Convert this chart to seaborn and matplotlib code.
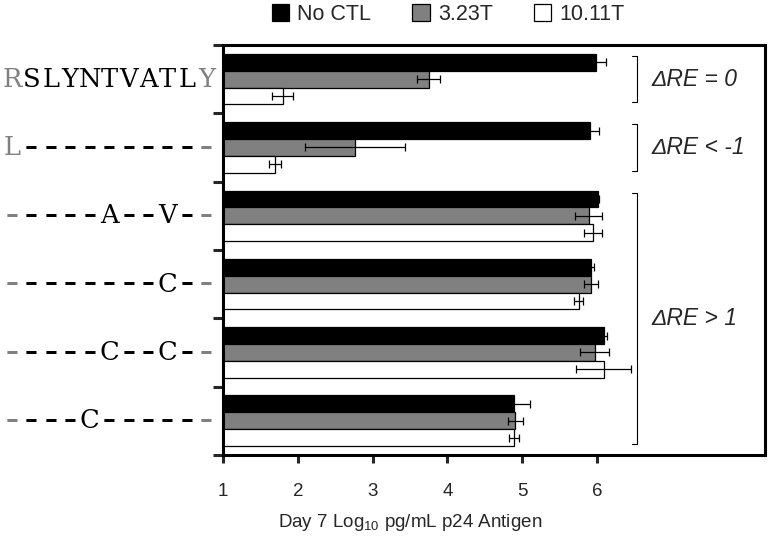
import numpy as np
import pandas as pd
import seaborn as sns
import matplotlib.pyplot as plt
from matplotlib.patches import Patch

peptides = ["RSLYNTVATLY", "L----------", "-----A--V--",
            "--------C--", "-----C--C--", "----C------"]
groups = ["No CTL", "3.23T", "10.11T"]
no_ctl = [5.99, 5.91, 6.01, 5.92, 6.09, 4.89]
t323 = [3.75, 2.77, 5.89, 5.92, 5.97, 4.91]
t1011 = [1.80, 1.70, 5.95, 5.76, 6.09, 4.89]
no_ctl_err = [0.13, 0.12, 0.02, 0.04, 0.05, 0.22]
t323_err = [0.15, 0.67, 0.18, 0.09, 0.19, 0.10]
t1011_err = [0.14, 0.08, 0.12, 0.06, 0.37, 0.07]
bracket_labels = ["ΔRE = 0", "ΔRE < -1", "ΔRE > 1"]
bracket_spans = [(0, 0), (1, 1), (2, 5)]

series = [no_ctl, t323, t1011]
errors = [no_ctl_err, t323_err, t1011_err]
colors = ["#000000", "#808080", "#ffffff"]

rows = []
for g, vals in zip(groups, series):
    for p, v in zip(peptides, vals):
        rows.append({"Peptide": p, "Group": g, "Value": v})
df = pd.DataFrame(rows)

sns.set_theme(style="white")
plt.rcParams["font.family"] = ["Liberation Sans", "DejaVu Sans"]

fig = plt.figure(figsize=(7.69, 5.39), dpi=100)
ax = fig.add_axes([0.290, 0.156, 0.705, 0.7605])

sns.barplot(data=df, x="Value", y="Peptide", hue="Group", palette=colors,
            orient="h", width=0.74, edgecolor="black", linewidth=0.9,
            errorbar=None, legend=False, ax=ax)

# error bars on top of the bars
for cont, vals, errs in zip(ax.containers, series, errors):
    ys = [p.get_y() + p.get_height() / 2 for p in cont]
    ax.errorbar(vals, ys, xerr=errs, fmt="none", ecolor="black",
                elinewidth=0.9, capsize=3, capthick=0.9)

ax.set_xlim(1, 8.25)
ax.set_ylim(len(peptides) - 0.5, -0.5)
ax.set_xticks([1, 2, 3, 4, 5, 6])
ax.set_yticks(np.arange(-0.5, len(peptides), 1))
ax.set_yticklabels([])
ax.set_ylabel("")
ax.tick_params(axis="x", direction="out", length=6, width=2.2, pad=14,
               labelsize=13.5, bottom=True)
ax.tick_params(axis="y", direction="out", length=7, width=2.2, left=True)
for s in ax.spines.values():
    s.set_linewidth(2.2)
    s.set_color("black")

ax.set_xlabel(r"Day 7 Log$_{\mathregular{10}}$ pg/mL p24 Antigen", fontsize=13.5)
ax.xaxis.set_label_coords((3.5 - 1) / (8.25 - 1), -0.14)

# sequence labels, char by char (first and last residue in gray)
fs = 18.5
pitch = 14.0
for k, pep in enumerate(peptides):
    n = len(pep)
    for i, ch in enumerate(pep):
        col = "#808080" if i in (0, n - 1) else "black"
        is_dash = ch == "-"
        ax.annotate("–" if is_dash else ch, xy=(0, k),
                    xycoords=("axes fraction", "data"),
                    xytext=(-(n - i - 0.5) * pitch - 5, 1 if is_dash else 0),
                    textcoords="offset points", ha="center", va="center",
                    fontsize=fs, family="DejaVu Serif", color=col,
                    fontweight="bold" if is_dash else "normal",
                    annotation_clip=False)

# brackets with delta RE labels
bx = 6.54
for (a, b), lab in zip(bracket_spans, bracket_labels):
    y0, y1 = a - 0.34, b + 0.34
    ax.plot([bx - 0.07, bx, bx, bx - 0.07], [y0, y0, y1, y1],
            color="black", lw=0.8)
    ax.text(bx + 0.19, (y0 + y1) / 2, lab, fontsize=16.5, style="italic",
            va="center", ha="left")

handles = [Patch(facecolor=c, edgecolor="black", linewidth=0.9) for c in colors]
fig.legend(handles, groups, loc="center", bbox_to_anchor=(0.583, 0.973),
           ncol=3, frameon=False, fontsize=15.5, handlelength=0.8,
           handleheight=0.8, handletextpad=0.4, columnspacing=1.9)

fig.savefig("out.png", dpi=100)
